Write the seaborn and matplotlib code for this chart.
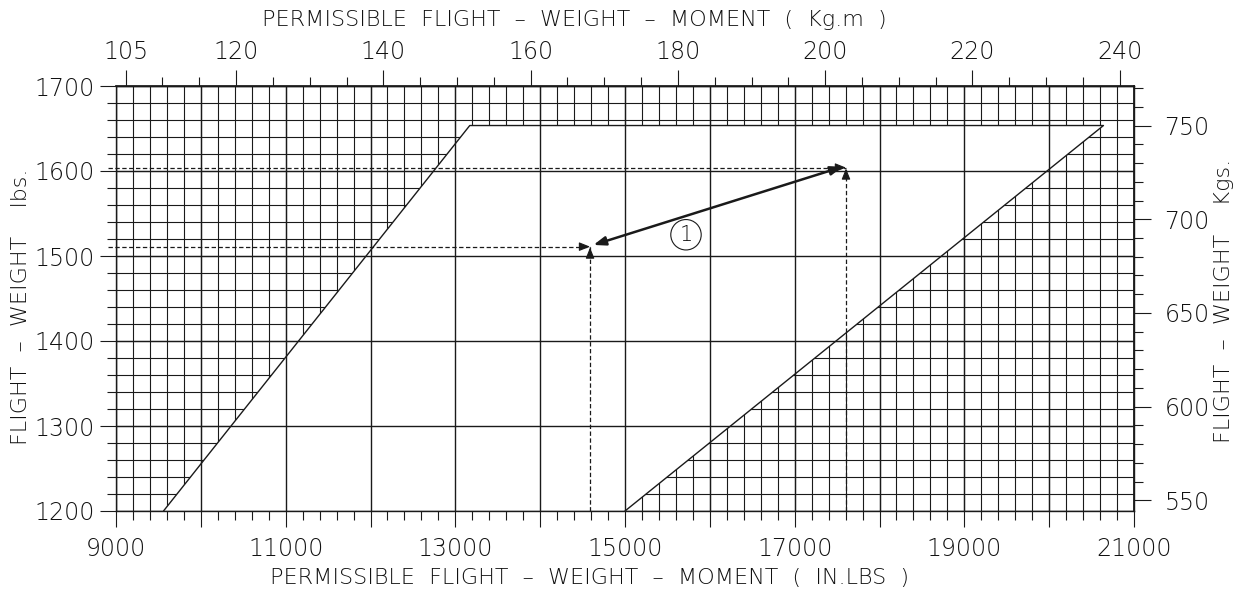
import matplotlib
matplotlib.use('Agg')
import matplotlib.pyplot as plt
import numpy as np
import pandas as pd
import seaborn as sns
from matplotlib.patches import Polygon

# ---------------- data ----------------
x_major = [9000, 10000, 11000, 12000, 13000, 14000, 15000, 16000, 17000, 18000, 19000, 20000, 21000]
x_labels = ['9000', '', '11000', '', '13000', '', '15000', '', '17000', '', '19000', '', '21000']
y_major = [1200, 1300, 1400, 1500, 1600, 1700]
y_labels = ['1200', '1300', '1400', '1500', '1600', '1700']
x_minor = list(range(9000, 21001, 200))
y_minor = list(range(1200, 1701, 20))
kgm_major = [105, 120, 140, 160, 180, 200, 220, 240]
kgm_minor = list(range(105, 241, 5))
kg_major = [550, 600, 650, 700, 750]
kg_minor = list(range(550, 771, 10))
env_x = [9560, 13170, 20640, 15000]
env_y = [1200, 1653.5, 1653.5, 1200]
ex_moment = [14588, 17605]
ex_weight = [1511, 1604]

LB_PER_KG = 2.20462
INLB_PER_KGM = 86.796

sns.set_theme(style='white')
plt.rcParams['font.family'] = ['DejaVu Sans']
plt.rcParams['font.weight'] = 200
TXT = '#111111'
FW = 200

fig = plt.figure(figsize=(12.47, 5.95), dpi=100)
ax = fig.add_axes([116/1247, 1-511/595, 1018/1247, 425/595])
ax.set_xlim(9000, 21000)
ax.set_ylim(1200, 1700)

# grid: fine grid, envelope blanked, then major grid
ax.vlines(x_minor, 1200, 1700, colors='k', lw=0.8, zorder=1)
ax.hlines(y_minor, 9000, 21000, colors='k', lw=0.8, zorder=1)
ax.add_patch(Polygon(list(zip(env_x, env_y)), closed=True, fc='white', ec='none', zorder=2))
ax.vlines(x_major, 1200, 1700, colors='k', lw=1.0, zorder=3)
ax.hlines(y_major, 9000, 21000, colors='k', lw=1.0, zorder=3)

env = pd.DataFrame({'moment': env_x, 'weight': env_y})
sns.lineplot(data=env, x='moment', y='weight', sort=False, estimator=None,
             color='k', lw=1.0, ax=ax, zorder=4)

# ticks
ax.set_xticks(x_major)
ax.set_xticklabels(x_labels, fontweight=FW)
ax.set_xticks(x_minor, minor=True)
ax.set_yticks(y_major)
ax.set_yticklabels(y_labels, fontweight=FW)
ax.set_yticks(y_minor, minor=True)
ax.tick_params(which='major', direction='out', length=11.5, width=0.8, color='k',
               labelsize=17, labelcolor=TXT)
ax.tick_params(axis='x', which='major', pad=7)
ax.tick_params(axis='y', which='major', pad=4)
ax.tick_params(which='minor', direction='out', length=6.5, width=0.8, color='k')
ax.tick_params(bottom=True, left=True, which='both')
ax.set_xlabel('')
ax.set_ylabel('')
for s in ax.spines.values():
    s.set_color('k')
    s.set_linewidth(1.0)

secx = ax.secondary_xaxis('top', functions=(lambda x: np.asarray(x) / INLB_PER_KGM,
                                            lambda x: np.asarray(x) * INLB_PER_KGM))
secx.set_xticks(kgm_major)
secx.set_xticklabels([str(v) for v in kgm_major], fontweight=FW)
secx.set_xticks(kgm_minor, minor=True)
secx.tick_params(which='major', direction='out', length=11.5, width=0.8, color='k',
                 labelsize=17, labelcolor=TXT, pad=4)
secx.tick_params(which='minor', direction='out', length=6.5, width=0.8, color='k')
secx.spines['top'].set_color('k')

secy = ax.secondary_yaxis('right', functions=(lambda y: np.asarray(y) / LB_PER_KG,
                                              lambda y: np.asarray(y) * LB_PER_KG))
secy.set_yticks(kg_major)
secy.set_yticklabels([str(v) for v in kg_major], fontweight=FW)
secy.set_yticks(kg_minor, minor=True)
secy.tick_params(which='major', direction='out', length=12, width=0.8, color='k',
                 labelsize=17, labelcolor=TXT, pad=10)
secy.tick_params(which='minor', direction='out', length=6.5, width=0.8, color='k')
secy.spines['right'].set_color('k')

# axis titles
fig.text(590/1247, 1-578/595, 'PERMISSIBLE  FLIGHT  –  WEIGHT  –  MOMENT  (  IN.LBS  )',
         ha='center', va='center', fontsize=16, color=TXT, fontweight=FW)
fig.text(574/1247, 1-20/595, 'PERMISSIBLE  FLIGHT  –  WEIGHT  –  MOMENT  (  Kg.m  )',
         ha='center', va='center', fontsize=16, color=TXT, fontweight=FW)
fig.text(21/1247, 1-307/595, 'FLIGHT  –  WEIGHT    lbs.', rotation=90,
         ha='center', va='center', fontsize=16, color=TXT, fontweight=FW)
fig.text(1224/1247, 1-301/595, 'FLIGHT  –  WEIGHT    Kgs.', rotation=90,
         ha='center', va='center', fontsize=16, color=TXT, fontweight=FW)

# example: dashed reading lines with arrowheads
dash = (0, (3.5, 2))
head = dict(arrowstyle='-|>,head_length=0.55,head_width=0.22', color='k', lw=0.8,
            shrinkA=0, shrinkB=0)
for xm, w in zip(ex_moment, ex_weight):
    ax.plot([8905, xm], [w, w], ls=dash, color='k', lw=0.9, clip_on=False, zorder=5)
    ax.plot([xm, xm], [1200, w], ls=dash, color='k', lw=0.9, zorder=5)
    ax.annotate('', xy=(xm, w), xytext=(xm - 110, w), arrowprops=head, zorder=6)
    ax.annotate('', xy=(xm, w - 1), xytext=(xm, w - 13), arrowprops=head, zorder=6)

ax.annotate('', xy=(ex_moment[0] + 40, ex_weight[0] + 2), xytext=(ex_moment[1] - 40, ex_weight[1] + 1),
            arrowprops=dict(arrowstyle='<|-|>,head_length=0.6,head_width=0.22', color='k', lw=1.8,
                            shrinkA=0, shrinkB=0), zorder=6)
ax.text(15719, 1525, '1', ha='center', va='center', fontsize=15, color=TXT, zorder=7,
        fontweight=FW,
        bbox=dict(boxstyle='circle,pad=0.25', fc='none', ec='k', lw=0.8))

fig.savefig('out.png', dpi=100)
